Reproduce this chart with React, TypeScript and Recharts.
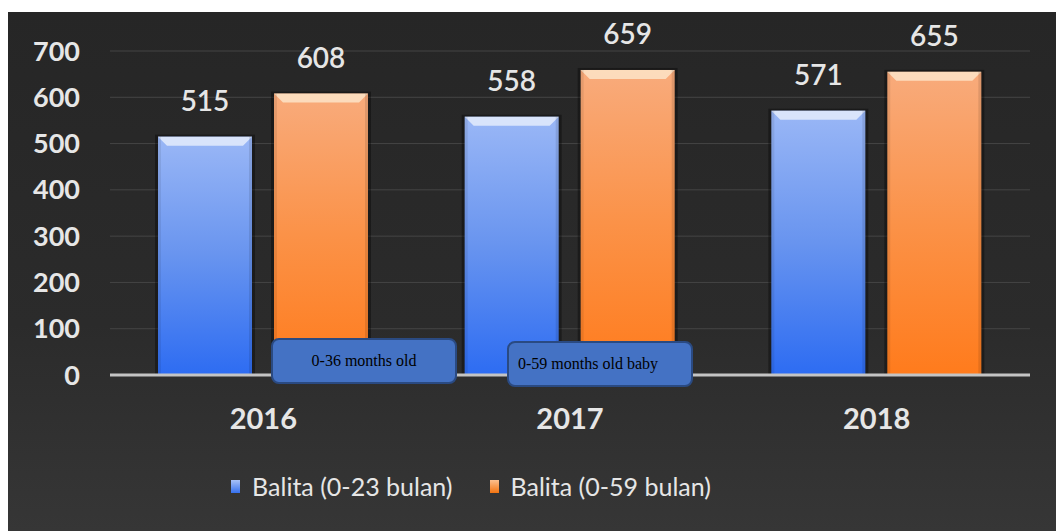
import React from "react";
import { BarChart, Bar, XAxis, YAxis, CartesianGrid, LabelList, Legend } from "recharts";

const years = ["2016", "2017", "2018"];
const balita023 = [515, 558, 571];
const balita059 = [608, 659, 655];
const yTicks = [0, 100, 200, 300, 400, 500, 600, 700];
const seriesNames = ["Balita (0-23 bulan)", "Balita (0-59 bulan)"];
const notes = ["0-36 months old", "0-59 months old baby"];

const data = years.map((y, i) => ({ year: y, a: balita023[i], b: balita059[i] }));

const FONT = "Lato, 'Open Sans', sans-serif";
const TEXT = "#e6e6e6";

const makeShape = (gid: string, hi: string) => (props: any) => {
  const { x, y, width, height } = props;
  if (!height || height <= 0) return null;
  const b = 9;
  return (
    <g>
      <rect x={x - 3} y={y - 2} width={width + 6} height={height + 2} fill="rgba(0,0,0,0.35)" />
      <rect x={x} y={y} width={width} height={height} fill={`url(#${gid})`} />
      <polygon
        points={`${x},${y} ${x + width},${y} ${x + width - b},${y + b} ${x + b},${y + b}`}
        fill={hi}
        opacity={0.85}
      />
      <rect x={x} y={y} width={3} height={height} fill="rgba(0,0,0,0.08)" />
      <rect x={x + width - 3} y={y} width={3} height={height} fill="rgba(0,0,0,0.1)" />
    </g>
  );
};

const BlueShape = makeShape("gBlue", "#e4ecfb");
const OrangeShape = makeShape("gOrange", "#fde4c8");

const LegendContent = () => (
  <div
    style={{
      display: "flex",
      justifyContent: "center",
      alignItems: "center",
      fontFamily: FONT,
      fontSize: 25,
      color: TEXT,
      gap: 37,
      marginRight: 96,
    }}
  >
    {seriesNames.map((n, i) => (
      <div key={n} style={{ display: "flex", alignItems: "center" }}>
        <span
          style={{
            display: "inline-block",
            width: 9,
            height: 13,
            marginRight: 12,
            background:
              i === 0
                ? "linear-gradient(#a9c2f7, #3570ee)"
                : "linear-gradient(#fbc08f, #f27310)",
          }}
        />
        {n}
      </div>
    ))}
  </div>
);

const noteStyle: React.CSSProperties = {
  position: "absolute",
  width: 182,
  height: 42,
  background: "#4472c4",
  border: "2px solid #2a4a82",
  borderRadius: 8,
  fontFamily: "'Liberation Serif', 'Times New Roman', serif",
  fontSize: 16,
  color: "#000",
  display: "flex",
  alignItems: "center",
};

export default function App() {
  return (
    <div
      style={{
        position: "absolute",
        left: 8,
        top: 12,
        width: 1048,
        height: 519,
        background: "linear-gradient(180deg, #262626 0%, #2b2b2b 60%, #363636 100%)",
        overflow: "hidden",
      }}
    >
      <BarChart
        width={1048}
        height={519}
        data={data}
        margin={{ top: 39, right: 26, left: 0, bottom: 0 }}
        barCategoryGap={48}
        barGap={22}
      >
        <defs>
          <linearGradient id="gBlue" x1="0" y1="0" x2="0" y2="1">
            <stop offset="0%" stopColor="#9ab7f6" />
            <stop offset="50%" stopColor="#6894ef" />
            <stop offset="100%" stopColor="#2d6cf2" />
          </linearGradient>
          <linearGradient id="gOrange" x1="0" y1="0" x2="0" y2="1">
            <stop offset="0%" stopColor="#f8ab7c" />
            <stop offset="50%" stopColor="#fb9248" />
            <stop offset="100%" stopColor="#ff7b1c" />
          </linearGradient>
        </defs>
        <CartesianGrid vertical={false} stroke="#454545" strokeWidth={1} />
        <XAxis
          dataKey="year"
          axisLine={{ stroke: "#c4c4c4", strokeWidth: 3 }}
          tickLine={false}
          height={118}
          tickMargin={27}
          tick={{ fill: TEXT, fontFamily: FONT, fontSize: 29, fontWeight: 700 }}
        />
        <YAxis
          domain={[0, 700]}
          ticks={yTicks}
          width={102}
          axisLine={false}
          tickLine={false}
          tickSize={0}
          tickMargin={30}
          tick={{ fill: TEXT, fontFamily: FONT, fontSize: 27, fontWeight: 700 }}
        />
        <Legend verticalAlign="bottom" height={38} wrapperStyle={{ bottom: 22 }} content={<LegendContent />} />
        <Bar dataKey="a" name={seriesNames[0]} fill="#4a80f0" barSize={94} shape={BlueShape} isAnimationActive={false}>
          <LabelList dataKey="a" position="top" offset={26} fill={TEXT} fontFamily={FONT} fontSize={28} fontWeight={600} />
        </Bar>
        <Bar dataKey="b" name={seriesNames[1]} fill="#fb8c3a" barSize={94} shape={OrangeShape} isAnimationActive={false}>
          <LabelList dataKey="b" position="top" offset={26} fill={TEXT} fontFamily={FONT} fontSize={28} fontWeight={600} />
        </Bar>
      </BarChart>
      <div style={{ ...noteStyle, left: 263, top: 326, justifyContent: "center" }}>{notes[0]}</div>
      <div style={{ ...noteStyle, left: 499, top: 329, paddingLeft: 9, boxSizing: "border-box", width: 186, height: 46 }}>
        {notes[1]}
      </div>
    </div>
  );
}
